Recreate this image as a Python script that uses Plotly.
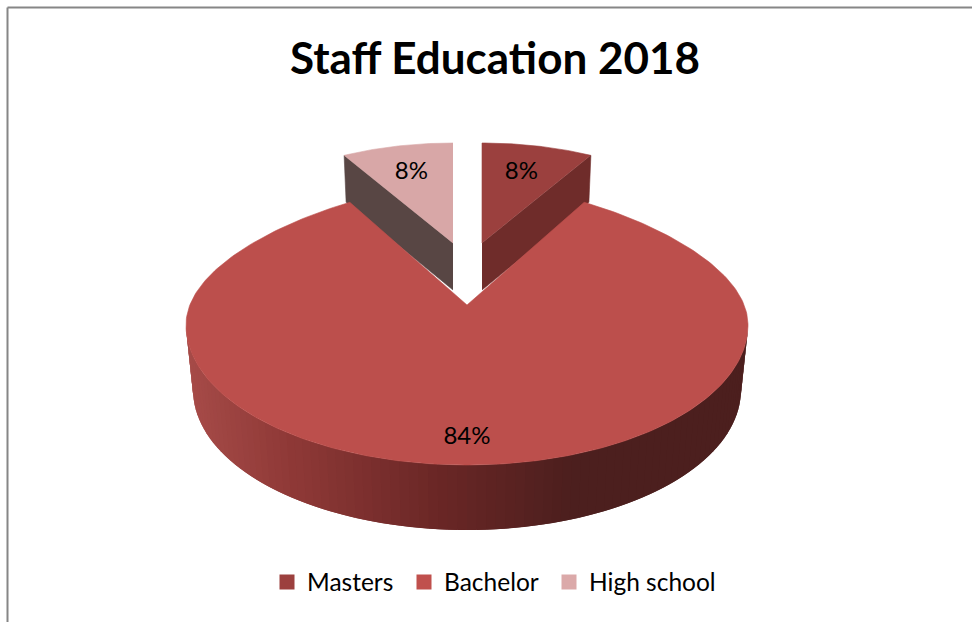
import numpy as np
import plotly.graph_objects as go

title = "Staff Education 2018"
categories = ["Masters", "Bachelor", "High school"]
values = [8, 84, 8]
top_colors = ["#9b403e", "#bc4f4c", "#d8a7a7"]
side_colors = ["#6f2c2a", None, "#584644"]
legend_colors = ["#9c403e", "#c0504d", "#dba9a9"]

W, H = 972, 622
total = sum(values)
edges = np.cumsum([0] + values) / total * 2 * np.pi
fig = go.Figure()


def poly(xs, ys, color, lw=0.6):
    fig.add_trace(go.Scatter(
        x=list(xs), y=list(ys), mode="lines", fill="toself", fillcolor=color,
        line=dict(color=color, width=lw), hoverinfo="skip", showlegend=False,
    ))


def small_slice(i, cx):
    a0, a1 = edges[i], edges[i + 1]
    rx, ry, depth = 226, 100, 47
    cut = a0 if i == 2 else a1
    ex, ey = cx + rx * np.sin(cut), 243 - ry * np.cos(cut)
    shift = -2 if i == 0 else 2
    poly([cx, ex, ex + shift, cx], [243, ey, ey + depth, 243 + depth], side_colors[i])
    th = np.linspace(a0, a1, 40)
    poly(np.r_[cx, cx + rx * np.sin(th)], np.r_[243, 243 - ry * np.cos(th)], top_colors[i])


small_slice(0, 482)
small_slice(2, 453)

# Bachelor: side wall as overlapping shaded strips, then the top face
cx, cy, rx, ry = 467, 325, 281, 140
wall_cy, wall_rx = 390, 274
stops_x = [190, 290, 440, 575, 760]
stops_rgb = np.array([[166, 75, 72], [143, 57, 55], [106, 39, 38], [76, 31, 30], [76, 31, 30]])
strips = np.linspace(np.pi / 2, 3 * np.pi / 2, 91)
step = strips[1] - strips[0]
for t0 in strips[:-1]:
    t1 = min(t0 + 2 * step, 3 * np.pi / 2)
    mx = cx + rx * np.sin(t0 + step / 2)
    rgb = [int(np.interp(mx, stops_x, stops_rgb[:, k])) for k in range(3)]
    col = f"rgb({rgb[0]},{rgb[1]},{rgb[2]})"
    ts = np.linspace(t0, t1, 5)
    poly(np.r_[cx + rx * np.sin(ts), cx + wall_rx * np.sin(ts[::-1])],
         np.r_[cy - ry * np.cos(ts), wall_cy - ry * np.cos(ts[::-1])], col, lw=0)

th = np.linspace(edges[1], edges[2], 300)
ys = cy - ry * np.cos(th)
narrow = 1 - 0.133 * np.clip((cy - ys) / 122, 0, None) ** 2
xs = cx + rx * np.sin(th) * narrow
poly(np.r_[cx, xs, cx], np.r_[305, ys, 305], top_colors[1])

# percentage labels, placed from each slice's middle angle
mids = (edges[:-1] + edges[1:]) / 2
lab_x = [482 + 226 * 0.70 * np.sin(mids[0]), cx + rx * 0.79 * np.sin(mids[1]), 453 + 226 * 0.74 * np.sin(mids[2])]
lab_y = [245 - 100 * 0.74 * np.cos(mids[0]), cy + 2 - ry * 0.79 * np.cos(mids[1]), 245 - 100 * 0.74 * np.cos(mids[2])]
fig.add_trace(go.Scatter(
    x=lab_x, y=lab_y, mode="text", text=[f"{round(v / total * 100)}%" for v in values],
    textposition="middle center", textfont=dict(family="Lato", size=24, color="#000000"),
    hoverinfo="skip", showlegend=False,
))

legend_names = ["legend", "legend2", "legend3"]
legend_left = [267, 404, 549]
for name, col, lg in zip(categories, legend_colors, legend_names):
    fig.add_trace(go.Scatter(
        x=[None], y=[None], mode="markers", name=name, legend=lg,
        marker=dict(symbol="square", size=15, color=col),
    ))

fig.update_layout(
    width=W, height=H, margin=dict(l=0, r=0, t=0, b=0),
    paper_bgcolor="white", plot_bgcolor="white",
    xaxis=dict(range=[0, W], visible=False, fixedrange=True),
    yaxis=dict(range=[H, 0], visible=False, fixedrange=True),
    title=dict(text=title, x=495 / W, xanchor="center", y=1 - 59 / H, yanchor="middle",
               font=dict(family="Lato", size=44, color="#000000", weight="bold")),
    shapes=[dict(type="line", xref="x", yref="y", x0=7.5, y0=7.5, x1=W, y1=7.5,
                 line=dict(color="#868686", width=2), layer="above"),
            dict(type="line", xref="x", yref="y", x0=7.5, y0=7.5, x1=7.5, y1=H,
                 line=dict(color="#868686", width=2), layer="above")],
)
for lg, left in zip(legend_names, legend_left):
    fig.update_layout({lg: dict(orientation="h", x=left / W, xanchor="left", y=1 - 582 / H, yanchor="middle",
                                font=dict(family="Lato", size=24.5, color="#000000"), bgcolor="rgba(0,0,0,0)")})
fig.write_html("out.html", config=dict(displayModeBar=False), post_script="document.body.style.margin='0';")
